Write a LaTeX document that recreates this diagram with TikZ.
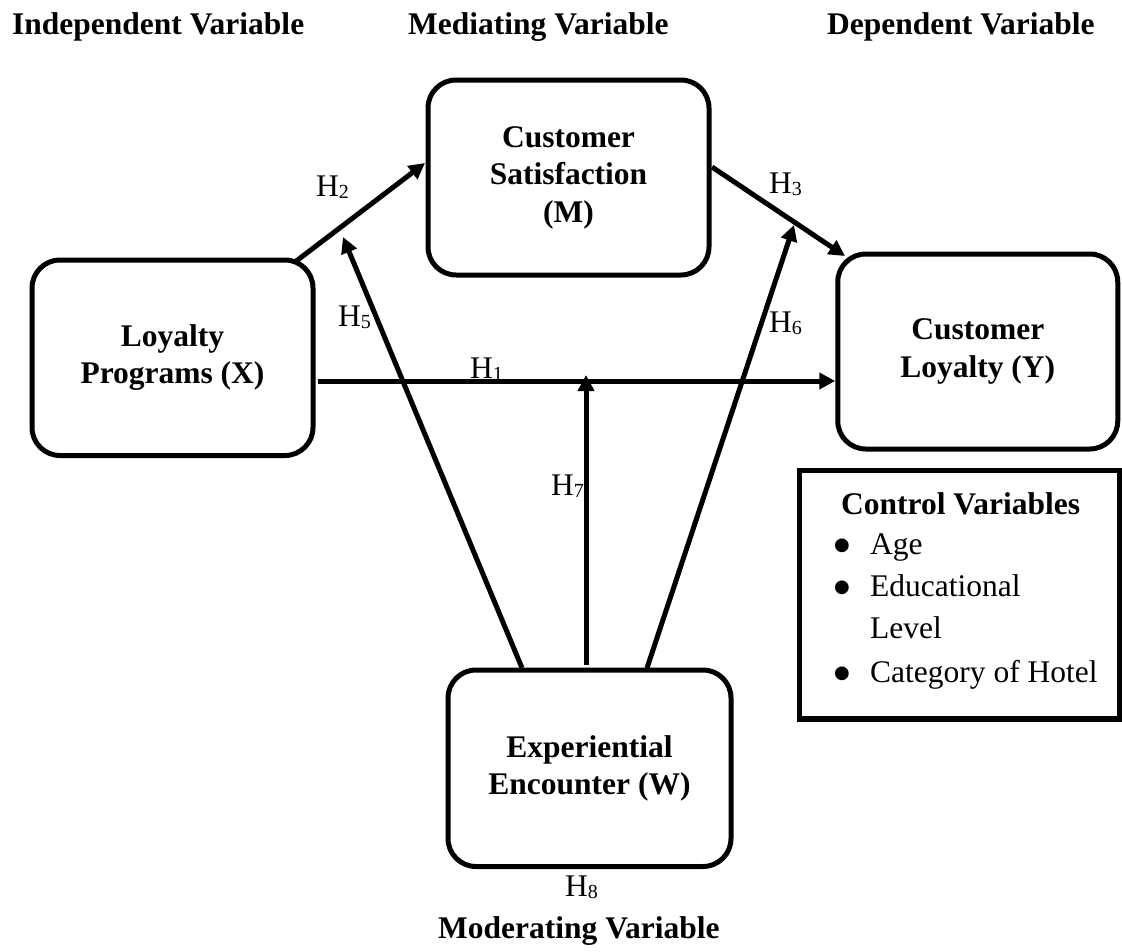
\documentclass[tikz,border=0pt]{standalone}
\usepackage{fontspec}
\setmainfont{Liberation Serif}
\newfontfamily\dejavu{DejaVu Sans}
\usetikzlibrary{arrows.meta}
\newcommand\Hsub[1]{H\raisebox{-2.5pt}{\fontsize{20}{20}\selectfont #1}}
\tikzset{
  box/.style={draw, line width=5pt, rounded corners=28pt, align=center, inner sep=0pt,
              font=\bfseries\fontsize{31.5}{37.5}\selectfont},
  arr/.style={line width=5pt, -{Triangle[width=16pt,length=16pt]}},
  lab/.style={anchor=base west, inner sep=0pt, font=\fontsize{31.5}{37.5}\selectfont},
  bul/.style={anchor=base, inner sep=0pt, font=\dejavu\fontsize{18}{18}\selectfont},
  head/.style={anchor=base west, inner sep=0pt, font=\bfseries\fontsize{31.5}{37.5}\selectfont},
  ctrl/.style={draw, line width=5.5pt, inner sep=0pt}
}
\begin{document}
\begin{tikzpicture}[x=1pt,y=-1pt]
\useasboundingbox (0,0) rectangle (1122,951);
% headers
\node[head] (hi) at (12,34) {Independent Variable};
\node[head] (hm) at (408,34) {Mediating Variable};
\node[head] (hd) at (827,34) {Dependent Variable};
\node[head] (hw) at (438,938) {Moderating Variable};
% boxes
\node[box, minimum width=281pt, minimum height=195.5pt] (X) at (172.5,357.75) {Loyalty\\Programs (X)};
\node[box, minimum width=281pt, minimum height=195pt] (M) at (568.5,177.5) {Customer\\Satisfaction\\(M)};
\node[box, minimum width=280pt, minimum height=195pt] (Y) at (977.75,351.5) {Customer\\Loyalty (Y)};
\node[box, minimum width=283pt, minimum height=196.5pt] (W) at (589.5,768.25) {Experiential\\Encounter (W)};
% control box
\node[ctrl, minimum width=320pt, minimum height=248.5pt] (C) at (959.5,594.75) {};
\node[head] (ct) at (841,514) {Control Variables};
\node[bul] (b1) at (842,550) {●};
\node[lab] (c1) at (870,554) {Age};
\node[bul] (b2) at (842,592) {●};
\node[lab] (c2) at (870,596) {Educational};
\node[lab] (c3) at (870,638) {Level};
\node[bul] (b3) at (842,678) {●};
\node[lab] (c4) at (870,682) {Category of Hotel};
% connector end points
\coordinate (h1s) at (318,381);
\coordinate (h1e) at (Y.west |- h1s);
\coordinate (h2s) at (295,262);
\coordinate (h2e) at (425,163);
\coordinate (h3s) at (712,167);
\coordinate (h3e) at (845,256);
\coordinate (h5s) at (522,668);
\coordinate (h5e) at (343,237);
\coordinate (h6s) at (647,668);
\coordinate (h6e) at (794,225);
\coordinate (h7s) at (586,665);
\coordinate (h7e) at (586,375);
% connectors
\draw[arr] (h1s) -- (h1e);
\draw[arr] (h2s) -- (h2e);
\draw[arr] (h3s) -- (h3e);
\draw[arr] (h5s) -- (h5e);
\draw[arr] (h6s) -- (h6e);
\draw[arr] (h7s) -- (h7e);
% labels
\node[lab] (l1) at (470,378) {\Hsub{1}};
\node[lab] (l2) at (316,196) {\Hsub{2}};
\node[lab] (l3) at (769,193) {\Hsub{3}};
\node[lab] (l5) at (338,326) {\Hsub{5}};
\node[lab] (l6) at (769,332) {\Hsub{6}};
\node[lab] (l7) at (551,495) {\Hsub{7}};
\node[lab] (l8) at (565,896) {\Hsub{8}};
\end{tikzpicture}
\end{document}
